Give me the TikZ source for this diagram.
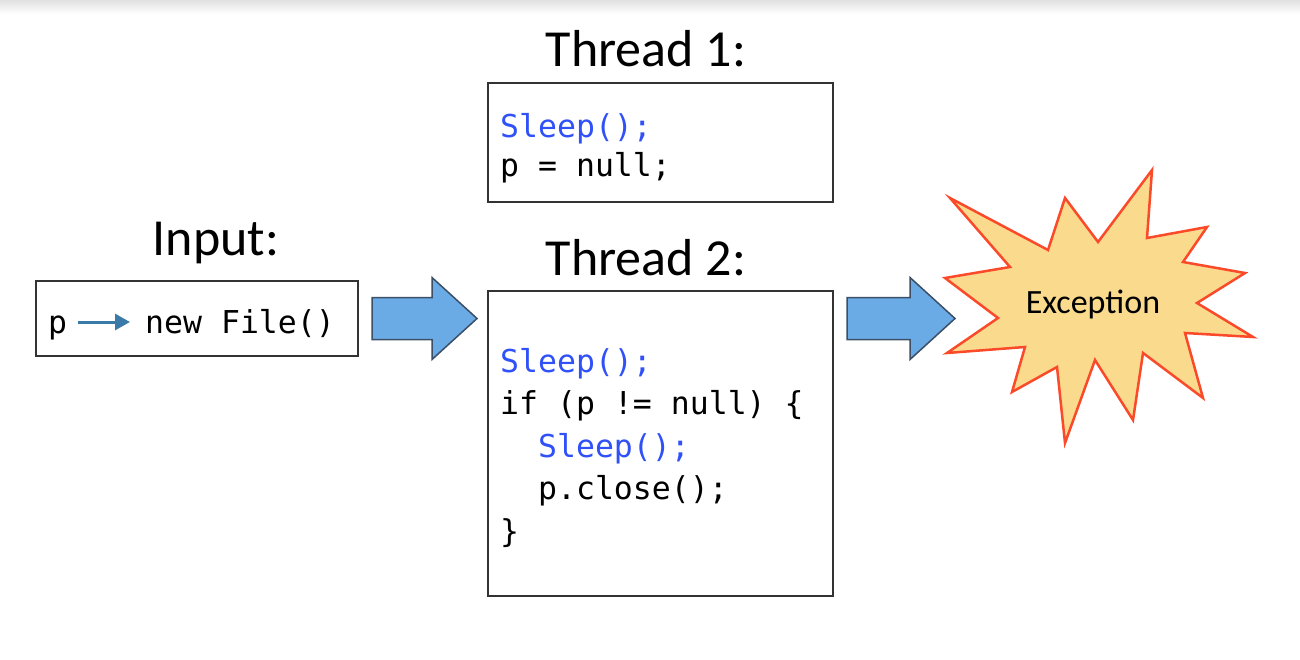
\documentclass[tikz,border=0pt]{standalone}
\usepackage{fontspec}
\setmainfont{Carlito}
\newfontfamily\codefont{DejaVu Sans Mono}
\usetikzlibrary{arrows.meta,calc}
\definecolor{sleepblue}{HTML}{3050F8}
\definecolor{arrowfill}{HTML}{6AABE6}
\definecolor{arrowline}{HTML}{3B4F66}
\definecolor{boomfill}{HTML}{FADB8E}
\definecolor{boomline}{HTML}{FA4A2A}
\definecolor{pointerblue}{HTML}{3A7AA8}
\newcommand{\sleepcall}{\textcolor{sleepblue}{Sleep();}}
% block arrow from tail coordinate #1 to tip coordinate #2
\newcommand{\blockarrow}[2]{%
  \draw[bigarrow] ($(#1)+(0,-21)$) -- ($(#2)+(-45,-21)$) -- ($(#2)+(-45,-41)$)
    -- (#2) -- ($(#2)+(-45,41)$) -- ($(#2)+(-45,21)$) -- ($(#1)+(0,21)$) -- cycle;}

\begin{document}
\begin{tikzpicture}[x=1pt,y=-1pt]
\tikzstyle{every node}+=[inner sep=0pt]
\tikzstyle{title}=[font=\fontsize{52}{60}\selectfont, anchor=base]
\tikzstyle{codebox}=[draw=black!80, line width=2pt, anchor=north west]
\tikzstyle{code}=[font=\codefont\fontsize{31.5}{42.5}\selectfont, align=left, anchor=base west]
\tikzstyle{bigarrow}=[fill=arrowfill, draw=arrowline, line width=1.5pt, line join=miter]
\tikzstyle{boom}=[fill=boomfill, draw=boomline, line width=2.5pt, line join=miter]
\tikzstyle{ptr}=[draw=pointerblue, line width=3pt, -{Triangle[length=15pt,width=16pt]}]
\useasboundingbox (0,0) rectangle (1300,660);
\shade[top color=black!12, bottom color=white] (0,0) rectangle (1300,14);
% input
\node[title] (inlabel) at (216,255) {Input:};
\node[codebox, minimum width=322pt, minimum height=75pt] (inbox) at (35,280) {};
\node[code] (p) at (48,333) {p};
\node[code] (newfile) at (145,333) {new File()};
\draw[ptr] ([shift={(11,-11)}]p.base east) -- ([shift={(-15,-11)}]newfile.base west);
% thread 1
\node[title] (t1label) at (646,67) {Thread 1:};
\node[codebox, minimum width=345pt, minimum height=119pt] (t1box) at (487,82) {};
\node[code, font=\codefont\fontsize{31.5}{39}\selectfont] (t1code) at (500,177) {\sleepcall\\p = null;};
% thread 2
\node[title] (t2label) at (646,276) {Thread 2:};
\node[codebox, minimum width=345pt, minimum height=305pt] (t2box) at (487,290) {};
\node[code] (t2code) at (500,542) {\sleepcall\\if (p != null) \{\\\phantom{xx}\sleepcall\\\phantom{xx}p.close();\\\}};
% arrows
\coordinate (a1s) at ($(inbox.east)+(13,0)$);
\coordinate (a1e) at ($(t2box.west|-a1s)+(-10,0)$);
\coordinate (a2s) at ($(t2box.east|-a1s)+(13,0)$);
\coordinate (a2e) at ($(t2box.east|-a1s)+(121,0)$);
\blockarrow{a1s}{a1e}
\blockarrow{a2s}{a2e}
% exception
\draw[boom] (950,198) -- (1048,250) -- (1065,198) -- (1098,242) -- (1152,170)
  -- (1147,238) -- (1207,227) -- (1183,262) -- (1245,273) -- (1197,303)
  -- (1253,337) -- (1185,333) -- (1203,398) -- (1143,353) -- (1133,420)
  -- (1095,360) -- (1065,443) -- (1057,367) -- (1012,392) -- (1025,347)
  -- (947,353) -- (998,318) -- (945,278) -- (1010,267) -- cycle;
\node[anchor=base, font=\fontsize{34}{40}\selectfont] (exc) at (1093,313) {Exception};
\end{tikzpicture}
\end{document}
